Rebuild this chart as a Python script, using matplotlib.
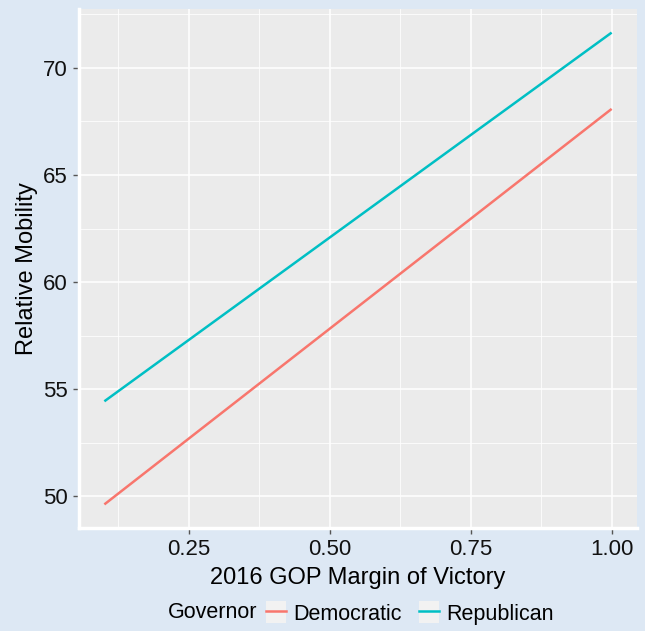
import matplotlib.pyplot as plt
from matplotlib.lines import Line2D
from matplotlib.patches import Patch
from matplotlib.legend_handler import HandlerTuple
from matplotlib.ticker import MultipleLocator

plt.rcParams['font.family'] = ['Liberation Sans', 'DejaVu Sans']

# data: fitted lines by governor party
margin = [0.1, 1.0]
democratic = [49.63, 68.08]
republican = [54.44, 71.64]
x_ticks = [0.25, 0.50, 0.75, 1.00]
x_tick_labels = ['0.25', '0.50', '0.75', '1.00']
y_ticks = [50, 55, 60, 65, 70]

bg = '#dde8f4'
panel = '#ebebeb'
key_bg = '#f2f2f2'
red = '#F8766D'
teal = '#00BFC4'

fig = plt.figure(figsize=(6.45, 6.31), dpi=100, facecolor=bg)
ax = fig.add_axes([79 / 645, 103 / 631, 558 / 645, 519 / 631])
ax.set_facecolor(panel)

ax.plot(margin, democratic, color=red, lw=1.8, solid_capstyle='butt')
ax.plot(margin, republican, color=teal, lw=1.8, solid_capstyle='butt')

# ggplot-style 5% expansion
xr = margin[1] - margin[0]
ax.set_xlim(margin[0] - 0.05 * xr, margin[1] + 0.05 * xr)
lo = min(democratic + republican)
hi = max(democratic + republican)
ax.set_ylim(lo - 0.05 * (hi - lo), hi + 0.05 * (hi - lo))

ax.set_xticks(x_ticks)
ax.set_xticklabels(x_tick_labels)
ax.set_yticks(y_ticks)
ax.xaxis.set_minor_locator(MultipleLocator(0.125))
ax.yaxis.set_minor_locator(MultipleLocator(2.5))
ax.grid(True, which='major', color='white', lw=1.1)
ax.grid(True, which='minor', color='white', lw=0.55)
ax.set_axisbelow(True)

for s in ['top', 'right']:
    ax.spines[s].set_visible(False)
for s in ['left', 'bottom']:
    ax.spines[s].set_color('white')
    ax.spines[s].set_linewidth(2.5)

ax.tick_params(which='major', length=4, width=1, color='#555555',
               labelsize=16, labelcolor='#111111', pad=4)
ax.tick_params(which='minor', length=0)

ax.set_xlabel('2016 GOP Margin of Victory', fontsize=17, labelpad=5)
ax.set_ylabel('Relative Mobility', fontsize=17, labelpad=4)

# legend at bottom with the title on the left
handles = [(Patch(facecolor=key_bg, edgecolor='none'), Line2D([], [], color=red, lw=1.8)),
           (Patch(facecolor=key_bg, edgecolor='none'), Line2D([], [], color=teal, lw=1.8))]
fig.text(168 / 645, 1 - 613 / 631, 'Governor', fontsize=15.5, va='center', ha='left')
fig.legend(handles, ['Democratic', 'Republican'], ncol=2, frameon=False,
           handler_map={tuple: HandlerTuple(ndivide=1)},
           loc='center left', bbox_to_anchor=(264 / 645, 1 - 613 / 631),
           fontsize=15.5, handlelength=0.93, handleheight=1.2, handletextpad=0.33,
           columnspacing=0.8, borderaxespad=0, borderpad=0.1)

fig.savefig('out.png', dpi=100, facecolor=bg)
